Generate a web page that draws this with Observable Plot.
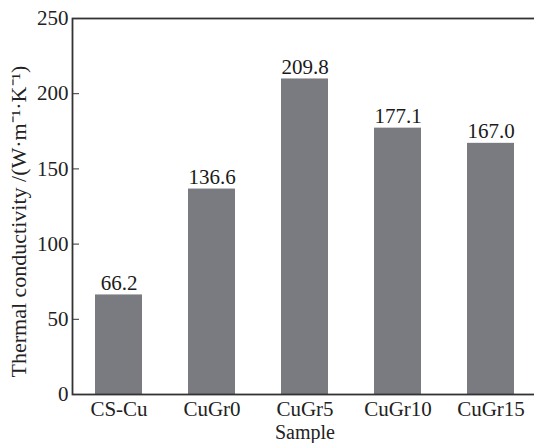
<!DOCTYPE html>
<html>
<head>
<meta charset="utf-8">
<script src="https://cdn.jsdelivr.net/npm/d3@7"></script>
<script src="https://cdn.jsdelivr.net/npm/@observablehq/plot@0.6"></script>
<style>
  html, body { margin: 0; padding: 0; background: #fff; }
</style>
</head>
<body>
<div id="chart"></div>
<script>
const samples = ["CS-Cu", "CuGr0", "CuGr5", "CuGr10", "CuGr15"];
const conductivity = [66.2, 136.6, 209.8, 177.1, 167.0];
const yTicks = [0, 50, 100, 150, 200, 250];
const yLabel = "Thermal conductivity /(W\u00B7m\u207B\u00B9\u00B7K\u207B\u00B9)";
const xLabel = "Sample";

const data = samples.map((s, i) => ({sample: s, value: conductivity[i]}));

const chart = Plot.plot({
  width: 534,
  height: 443,
  marginLeft: 72,
  marginRight: -3,
  marginTop: 18,
  marginBottom: 49,
  style: {fontFamily: "'Liberation Serif', serif", fontSize: "21px", background: "#fff", color: "#222"},
  x: {domain: samples, paddingInner: 0.5, paddingOuter: 0.25},
  y: {domain: [0, 250]},
  marks: [
    Plot.barY(data, {x: "sample", y: "value", fill: "#7a7b80"}),
    Plot.text(data, {x: "sample", y: "value", text: d => d.value.toFixed(1), lineAnchor: "bottom", dy: -5, fill: "#1a1a1a", fontSize: 21}),
    Plot.axisY({ticks: yTicks, tickSize: -7, tickPadding: 11, label: null, stroke: "#333", fontSize: 21, tickFormat: d => String(d)}),
    Plot.axisX({tickSize: 0, tickPadding: 7, label: null, fontSize: 21}),
    Plot.text([xLabel], {frameAnchor: "bottom", text: d => d, textAnchor: "middle", lineAnchor: "bottom", dy: 44, fontSize: 20, fill: "#222"}),
    Plot.text([yLabel], {frameAnchor: "left", text: d => d, textAnchor: "middle", rotate: -90, dx: -54, dy: 15, fontSize: 22, fill: "#222"}),
    Plot.frame({stroke: "#333", strokeWidth: 1.8})
  ]
});
document.getElementById("chart").appendChild(chart);
</script>
</body>
</html>
